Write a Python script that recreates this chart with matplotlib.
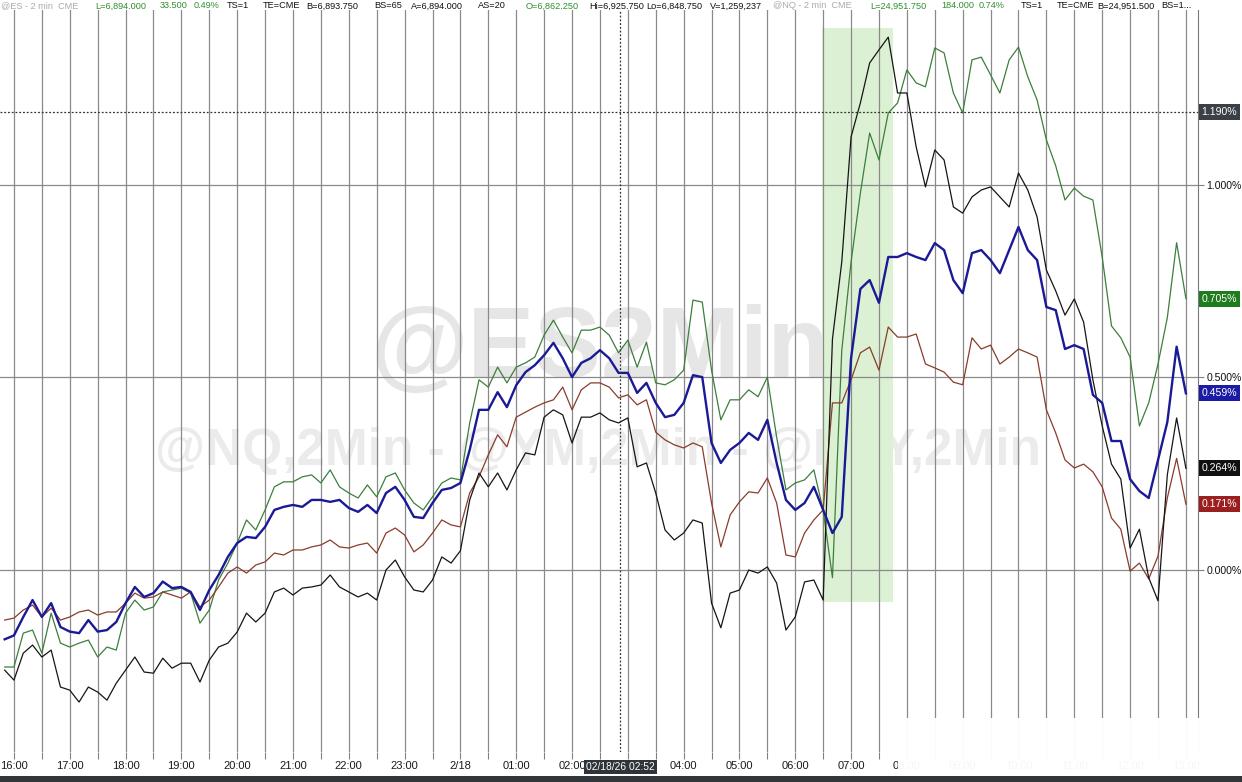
import pandas as pd
import matplotlib
matplotlib.use("Agg")
import matplotlib.pyplot as plt
import matplotlib.dates as mdates
from matplotlib.patches import Rectangle
from matplotlib.ticker import FuncFormatter, FixedLocator

# =============================
# Data (% change, 10-minute samples)
# =============================
times = pd.date_range("2026-02-17 15:50", "2026-02-18 13:00", freq="10min")

es = [-0.18, -0.17, -0.122, -0.078, -0.122, -0.086, -0.148, -0.16, -0.164, -0.13,
      -0.16, -0.156, -0.135, -0.086, -0.044, -0.07, -0.06, -0.03, -0.047, -0.044,
      -0.057, -0.104, -0.052, -0.013, 0.034, 0.07, 0.086, 0.083, 0.112, 0.156,
      0.164, 0.169, 0.164, 0.182, 0.182, 0.177, 0.182, 0.161, 0.151, 0.169,
      0.148, 0.2, 0.216, 0.182, 0.138, 0.135, 0.174, 0.208, 0.213, 0.226,
      0.312, 0.416, 0.416, 0.462, 0.423, 0.48, 0.514, 0.532, 0.558, 0.59,
      0.55, 0.501, 0.538, 0.55, 0.571, 0.55, 0.512, 0.512, 0.46, 0.486,
      0.434, 0.397, 0.403, 0.434, 0.506, 0.501, 0.33, 0.278, 0.312, 0.33,
      0.356, 0.338, 0.39, 0.278, 0.182, 0.156, 0.174, 0.216, 0.156, 0.096,
      0.138, 0.55, 0.73, 0.753, 0.694, 0.813, 0.813, 0.823, 0.813, 0.805,
      0.849, 0.831, 0.753, 0.719, 0.823, 0.831, 0.805, 0.771, 0.831, 0.891,
      0.831, 0.805, 0.683, 0.675, 0.574, 0.584, 0.574, 0.455, 0.434, 0.335,
      0.335, 0.236, 0.205, 0.187, 0.286, 0.384, 0.58, 0.459]

nq = [-0.252, -0.252, -0.164, -0.156, -0.216, -0.112, -0.19, -0.2, -0.19, -0.182,
      -0.226, -0.2, -0.208, -0.112, -0.078, -0.104, -0.096, -0.057, -0.052, -0.047,
      -0.06, -0.138, -0.104, -0.026, 0.018, 0.07, 0.13, 0.104, 0.156, 0.216,
      0.229, 0.229, 0.242, 0.247, 0.226, 0.26, 0.216, 0.2, 0.187, 0.221,
      0.19, 0.242, 0.252, 0.208, 0.174, 0.156, 0.19, 0.226, 0.239, 0.234,
      0.382, 0.494, 0.475, 0.527, 0.486, 0.527, 0.538, 0.553, 0.61, 0.649,
      0.605, 0.564, 0.623, 0.623, 0.631, 0.61, 0.564, 0.597, 0.527, 0.592,
      0.486, 0.481, 0.494, 0.519, 0.701, 0.696, 0.519, 0.39, 0.442, 0.442,
      0.468, 0.45, 0.501, 0.345, 0.208, 0.226, 0.234, 0.26, 0.156, -0.02,
      0.57, 0.8, 0.979, 1.135, 1.065, 1.187, 1.213, 1.299, 1.265, 1.255,
      1.356, 1.343, 1.239, 1.187, 1.325, 1.332, 1.286, 1.239, 1.325, 1.358,
      1.281, 1.221, 1.117, 1.05, 0.961, 0.992, 0.971, 0.961, 0.813, 0.634,
      0.603, 0.553, 0.374, 0.434, 0.535, 0.655, 0.85, 0.705]

ym = [-0.13, -0.125, -0.104, -0.091, -0.122, -0.099, -0.13, -0.122, -0.109, -0.104,
      -0.117, -0.109, -0.109, -0.086, -0.06, -0.073, -0.07, -0.057, -0.065, -0.073,
      -0.057, -0.096, -0.078, -0.044, -0.008, 0.008, -0.008, 0.013, 0.021, 0.044,
      0.039, 0.052, 0.052, 0.06, 0.065, 0.078, 0.06, 0.057, 0.065, 0.07,
      0.044, 0.096, 0.109, 0.091, 0.047, 0.065, 0.096, 0.13, 0.117, 0.112,
      0.2, 0.242, 0.299, 0.351, 0.32, 0.397, 0.41, 0.423, 0.434, 0.442,
      0.475, 0.416, 0.468, 0.486, 0.486, 0.475, 0.447, 0.455, 0.429, 0.442,
      0.358, 0.338, 0.325, 0.317, 0.33, 0.32, 0.174, 0.06, 0.143, 0.177,
      0.203, 0.2, 0.239, 0.174, 0.039, 0.034, 0.096, 0.13, 0.156, 0.434,
      0.434, 0.494, 0.564, 0.579, 0.519, 0.631, 0.605, 0.605, 0.613, 0.535,
      0.525, 0.514, 0.488, 0.481, 0.603, 0.574, 0.584, 0.535, 0.553, 0.574,
      0.564, 0.553, 0.416, 0.356, 0.286, 0.265, 0.275, 0.255, 0.216, 0.135,
      0.106, -0.003, 0.018, -0.023, 0.036, 0.187, 0.29, 0.171]

rty = [-0.26, -0.286, -0.216, -0.195, -0.226, -0.208, -0.304, -0.312, -0.343, -0.304,
       -0.317, -0.338, -0.294, -0.26, -0.226, -0.265, -0.268, -0.229, -0.255, -0.242,
       -0.242, -0.291, -0.234, -0.2, -0.19, -0.161, -0.112, -0.135, -0.112, -0.057,
       -0.047, -0.065, -0.047, -0.044, -0.039, -0.013, -0.044, -0.057, -0.07, -0.06,
       -0.078, 0.0, 0.026, -0.018, -0.052, -0.057, -0.026, 0.034, 0.018, 0.05,
       0.182, 0.252, 0.216, 0.252, 0.208, 0.26, 0.304, 0.299, 0.397, 0.416,
       0.403, 0.33, 0.397, 0.397, 0.408, 0.39, 0.382, 0.395, 0.268, 0.278,
       0.2, 0.104, 0.078, 0.096, 0.13, 0.122, -0.086, -0.15, -0.06, -0.052,
       0.0, -0.008, 0.008, -0.034, -0.156, -0.122, -0.031, -0.026, -0.078, 0.6,
       0.8, 1.125, 1.213, 1.317, 1.351, 1.384, 1.239, 1.239, 1.099, 0.995,
       1.091, 1.065, 0.943, 0.927, 0.969, 0.987, 0.995, 0.969, 0.943, 1.031,
       0.987, 0.917, 0.779, 0.725, 0.662, 0.704, 0.644, 0.494, 0.374, 0.275,
       0.236, 0.057, 0.106, -0.02, -0.08, 0.247, 0.395, 0.264]

y_ticks = [0.0, 0.5, 1.0]
cursor_time = pd.Timestamp("2026-02-18 02:52")
cursor_level = 1.190
shade_start = pd.Timestamp("2026-02-18 06:29")
shade_end = pd.Timestamp("2026-02-18 07:45")
shade_low, shade_high = -0.083, 1.408

header = [
    (1, "@ES - 2 min  CME", "#ababab"), (95, "L=6,894.000", "#2f8f2f"),
    (160, "33.500", "#2f8f2f"), (194, "0.49%", "#2f8f2f"), (227, "TS=1", "#111111"),
    (263, "TE=CME", "#111111"), (306, "B=6,893.750", "#111111"), (374, "BS=65", "#111111"),
    (411, "A=6,894.000", "#111111"), (478, "AS=20", "#111111"), (526, "O=6,862.250", "#2f8f2f"),
    (589, "Hi=6,925.750", "#111111"), (646, "Lo=6,848.750", "#111111"),
    (710, "V=1,259,237", "#111111"), (773, "@NQ - 2 min  CME", "#ababab"),
    (870, "L=24,951.750", "#2f8f2f"), (941, "184.000", "#2f8f2f"), (979, "0.74%", "#2f8f2f"),
    (1021, "TS=1", "#111111"), (1057, "TE=CME", "#111111"), (1097, "B=24,951.500", "#111111"),
    (1161, "BS=1...", "#111111"),
]

plt.rcParams["font.family"] = ["Liberation Sans", "DejaVu Sans"]

W, H = 1242, 782
fig = plt.figure(figsize=(W / 100, H / 100), dpi=100)
fig.patch.set_facecolor("white")
ax = fig.add_axes([0, 1 - 752 / H, 1198 / W, 742 / H])

# watermarks
ax.text(600 / W, 1 - 351 / H, "@ES2Min", transform=fig.transFigure, ha="center", va="center",
        fontsize=72, fontweight="bold", color="#e6e6e6", zorder=0.2)
ax.text(598 / W, 1 - 452 / H, "@NQ,2Min - @YM,2Min - @RTY,2Min", transform=fig.transFigure,
        ha="center", va="center", fontsize=37, fontweight="bold", color="#ebebeb", zorder=0.2)

# highlighted window
x0 = mdates.date2num(shade_start)
x1 = mdates.date2num(shade_end)
ax.add_patch(Rectangle((x0, shade_low), x1 - x0, shade_high - shade_low,
                       facecolor="#dcf1d3", edgecolor="none", zorder=0.5))

# series
ax.plot(times, nq, color="#3c7f3c", lw=0.9, zorder=3)
ax.plot(times, ym, color="#8a3b2c", lw=0.9, zorder=3)
ax.plot(times, rty, color="#151515", lw=0.9, zorder=3)
ax.plot(times, es, color="#1a1a96", lw=1.7, zorder=4)

# crosshair
ax.axhline(cursor_level, color="#333333", lw=0.9, ls=(0, (1.5, 1.5)), zorder=5)
ax.axvline(cursor_time, color="#333333", lw=0.9, ls=(0, (1.5, 1.5)), zorder=5)

ax.set_xlim(pd.Timestamp("2026-02-17 15:45"), pd.Timestamp("2026-02-18 13:13"))
ax.set_ylim(-0.4727, 1.4545)

# axes styling
for side in ["top", "left", "bottom"]:
    ax.spines[side].set_visible(False)
ax.spines["right"].set_color("#7a7a7a")

ax.xaxis.set_major_locator(mdates.HourLocator())
ax.xaxis.set_minor_locator(mdates.MinuteLocator(byminute=[30]))


def hour_label(v, pos):
    d = mdates.num2date(v)
    if d.hour == 0:
        return "2/18"
    if d.hour == 3:
        return ""
    return d.strftime("%H:00")


ax.xaxis.set_major_formatter(FuncFormatter(hour_label))
ax.tick_params(axis="x", which="major", length=5, width=0.8, color="#808080",
               labelsize=8, labelcolor="#1a1a1a", pad=1.5)
ax.tick_params(axis="x", which="minor", length=5, width=0.8, color="#808080")
ax.grid(axis="x", which="both", color="#8a8a8a", lw=0.9, zorder=1)

ax.yaxis.tick_right()
ax.yaxis.set_major_locator(FixedLocator(y_ticks))
ax.yaxis.set_major_formatter(FuncFormatter(lambda v, p: f"{v:.3f}%"))
ax.tick_params(axis="y", length=4, width=0.8, color="#808080", labelsize=7.6,
               labelcolor="#111111", pad=2)
ax.grid(axis="y", which="major", color="#8a8a8a", lw=0.9, zorder=1)
ax.set_axisbelow(True)

# right-hand value flags
flags = [(cursor_level, "#3a4046"), (nq[-1], "#1e7b1e"), (es[-1], "#1b1ba6"),
         (rty[-1], "#111111"), (ym[-1], "#9b1f1f")]
for val, col in flags:
    ax.text(1.003, val, f"{val:.3f}%", transform=ax.get_yaxis_transform(), ha="left",
            va="center", fontsize=7.6, color="white", zorder=6,
            bbox=dict(boxstyle="square,pad=0.28", fc=col, ec="none"))

# cursor time flag on the x axis
ax.text(cursor_time, -(767 - 752) / 742, "02/18/26 02:52", transform=ax.get_xaxis_transform(),
        ha="center", va="center", fontsize=7.4, color="white", zorder=6,
        bbox=dict(boxstyle="square,pad=0.22", fc="#2e3439", ec="none"))

# header line
for x, txt, col in header:
    fig.text(x / W, 1 - 6 / H, txt, ha="left", va="center", fontsize=6.6, color=col)

# blurred patch bottom right and dark footer bar
fig.add_artist(Rectangle((898 / W, 6 / H), 1 - 898 / W, 58 / H, transform=fig.transFigure,
                         facecolor="white", edgecolor="none", alpha=0.97, zorder=10))
fig.add_artist(Rectangle((0, 0), 1, 6 / H, transform=fig.transFigure,
                         facecolor="#30363a", edgecolor="none", zorder=11))

fig.savefig("out.png", dpi=100)
